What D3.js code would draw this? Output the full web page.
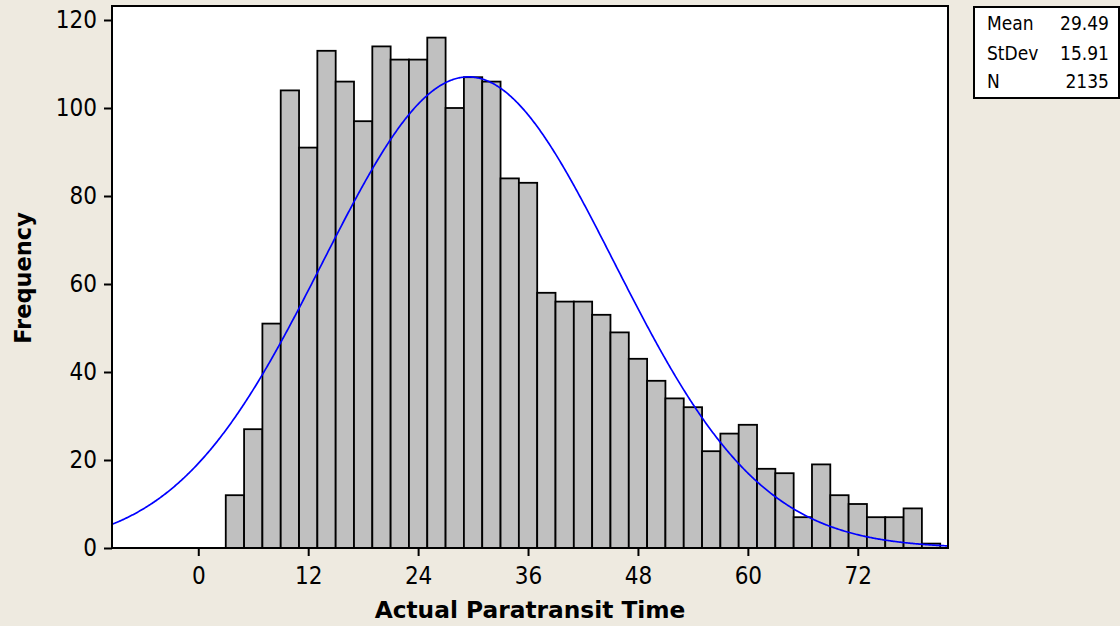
<!DOCTYPE html>
<html>
<head>
<meta charset="utf-8">
<script src="https://cdn.jsdelivr.net/npm/d3@7"></script>
<style>
  html, body { margin: 0; padding: 0; background: #eeeae0; }
  svg { display: block; }
  .tick text { font-family: "DejaVu Sans Condensed", "DejaVu Sans", sans-serif; font-stretch: condensed; font-size: 24px; fill: #000; }
</style>
</head>
<body>
<svg id="chart" width="1120" height="626"></svg>
<script>
// ---- data ----
const binStarts = [3,5,7,9,11,13,15,17,19,21,23,25,27,29,31,33,35,37,39,41,43,45,47,49,51,53,55,57,59,61,63,65,67,69,71,73,75,77,79];
const counts    = [12,27,51,104,91,113,106,97,114,111,111,116,100,107,106,84,83,58,56,56,53,49,43,38,34,32,22,26,28,18,17,7,19,12,10,7,7,9,1];
const binWidth  = 2;
const xTicks = [0,12,24,36,48,60,72];
const yTicks = [0,20,40,60,80,100,120];
const statLabels = ["Mean","StDev","N"];
const statValues = [29.49, 15.91, 2135];
const statText   = ["29.49","15.91","2135"];
const xTitle = "Actual Paratransit Time";
const yTitle = "Frequency";

// ---- layout ----
const L = 112, R = 948, T = 6, B = 548;
const svg = d3.select("#chart");
const x = d3.scaleLinear().domain([-9.42, 81.85]).range([L, R]);
const y = d3.scaleLinear().domain([0, 120]).range([B, 20]);

// plot background
svg.append("rect").attr("x", L).attr("y", T).attr("width", R - L).attr("height", B - T).attr("fill", "#fff");

// bars
const bins = binStarts.map((s, i) => ({x0: s, x1: s + binWidth, n: counts[i]}));
svg.append("g").selectAll("rect").data(bins).join("rect")
  .attr("x", d => x(d.x0))
  .attr("y", d => y(d.n))
  .attr("width", d => x(d.x1) - x(d.x0))
  .attr("height", d => y(0) - y(d.n))
  .attr("fill", "#c0c0c0")
  .attr("stroke", "#000")
  .attr("stroke-width", 1.8);

// fitted normal curve from stated mean / stdev / N
const mean = statValues[0], sd = statValues[1], N = statValues[2];
const dens = v => N * binWidth * Math.exp(-0.5 * ((v - mean) / sd) ** 2) / (sd * Math.sqrt(2 * Math.PI));
const xs = d3.range(x.domain()[0], x.domain()[1] + 0.001, 0.1);
svg.append("clipPath").attr("id", "clip").append("rect").attr("x", L).attr("y", T).attr("width", R - L).attr("height", B - T);
svg.append("path")
  .datum(xs)
  .attr("clip-path", "url(#clip)")
  .attr("fill", "none")
  .attr("stroke", "#0000ff")
  .attr("stroke-width", 1.7)
  .attr("d", d3.line().x(v => x(v)).y(v => y(dens(v))));

// frame
svg.append("rect").attr("x", L).attr("y", T).attr("width", R - L).attr("height", B - T)
  .attr("fill", "none").attr("stroke", "#000").attr("stroke-width", 2);

// axes
const gy = svg.append("g").attr("transform", `translate(${L},0)`)
  .call(d3.axisLeft(y).tickValues(yTicks).tickSize(8).tickPadding(7));
const gx = svg.append("g").attr("transform", `translate(0,${B})`)
  .call(d3.axisBottom(x).tickValues(xTicks).tickSize(8).tickPadding(11));
[gy, gx].forEach(g => {
  g.select(".domain").remove();
  g.selectAll(".tick line").attr("stroke", "#000").attr("stroke-width", 2);
});

// axis titles
svg.append("text").attr("x", (L + R) / 2).attr("y", 618)
  .attr("text-anchor", "middle")
  .style("font-family", "'DejaVu Sans', sans-serif").style("font-weight", "bold").style("font-size", "23.3px")
  .text(xTitle);
svg.append("text").attr("transform", `translate(31,${(T + B) / 2 + 1}) rotate(-90)`)
  .attr("text-anchor", "middle")
  .style("font-family", "'DejaVu Sans', sans-serif").style("font-weight", "bold").style("font-size", "22.5px")
  .text(yTitle);

// stats box
svg.append("rect").attr("x", 974).attr("y", 7).attr("width", 145).attr("height", 91)
  .attr("fill", "#fff").attr("stroke", "#000").attr("stroke-width", 2);
const rowY = [30, 59.5, 88];
const st = svg.append("g").style("font-family", "'DejaVu Sans Condensed', 'DejaVu Sans', sans-serif")
  .style("font-stretch", "condensed").style("font-size", "19px");
st.selectAll("text.lab").data(statLabels).join("text").attr("class", "lab")
  .attr("x", 987).attr("y", (d, i) => rowY[i]).text(d => d);
st.selectAll("text.val").data(statText).join("text").attr("class", "val")
  .attr("x", 1109).attr("y", (d, i) => rowY[i]).attr("text-anchor", "end").text(d => d);
</script>
</body>
</html>
